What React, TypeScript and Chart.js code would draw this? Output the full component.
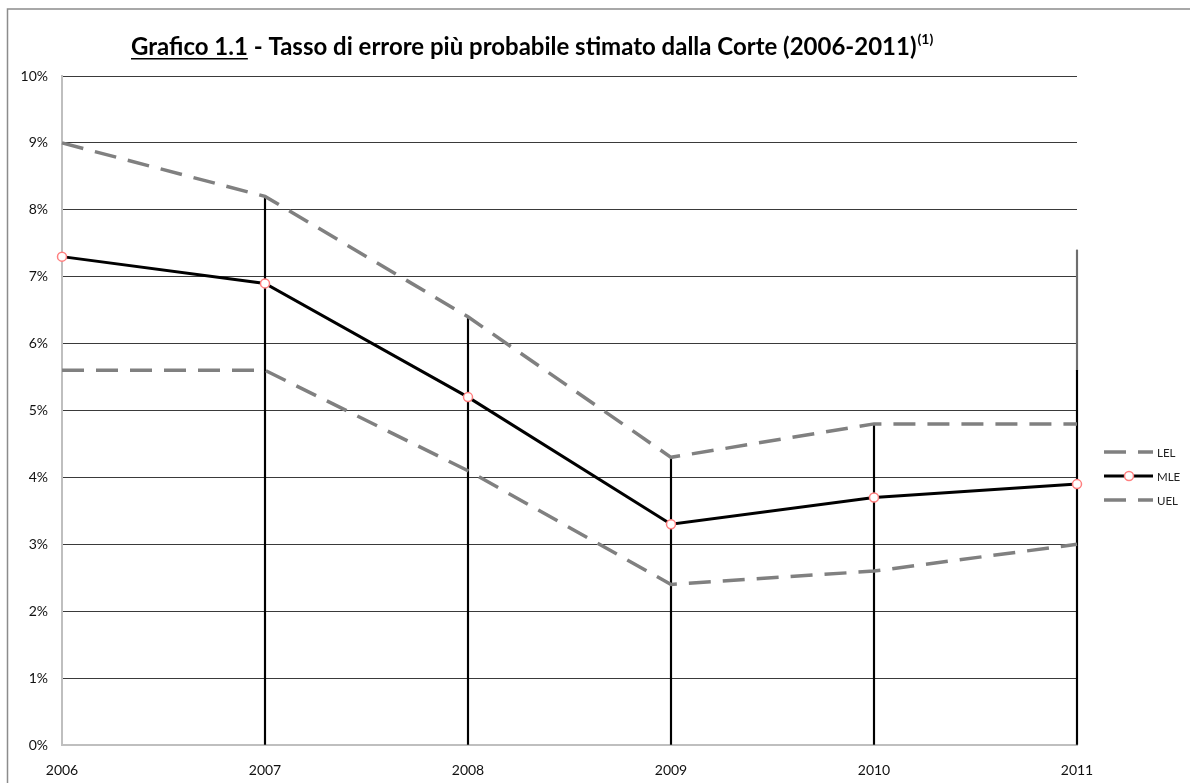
import React, { useEffect, useRef } from "react";
import { Chart, registerables } from "chart.js";

Chart.register(...registerables);

const years = ["2006", "2007", "2008", "2009", "2010", "2011"];
const lel = [5.6, 5.6, 4.1, 2.4, 2.6, 3.0];
const mle = [7.3, 6.9, 5.2, 3.3, 3.7, 3.9];
const uel = [9.0, 8.2, 6.4, 4.3, 4.8, 4.8];
const dropLines = [null, 8.2, 6.4, 4.3, 4.8, 5.6];
const dropExtra = [null, null, null, null, null, [5.6, 7.4]];
const yTickLabels = ["0%", "1%", "2%", "3%", "4%", "5%", "6%", "7%", "8%", "9%", "10%"];
const titleMain = "Grafico 1.1";
const titleRest = " - Tasso di errore più probabile stimato dalla Corte (2006-2011)";
const titleSup = "(1)";
const legendItems = ["LEL", "MLE", "UEL"];

const FONT = "Lato, 'Open Sans', sans-serif";

const decorPlugin = {
  id: "decor",
  beforeDraw(chart: any) {
    const ctx = chart.ctx;
    ctx.save();
    ctx.fillStyle = "#fff";
    ctx.fillRect(0, 0, chart.width, chart.height);
    ctx.strokeStyle = "#8c8c8c";
    ctx.lineWidth = 1.5;
    ctx.strokeRect(7.5, 9, chart.width + 50, chart.height + 50);
    ctx.restore();
  },
  afterDraw(chart: any) {
    const ctx = chart.ctx;
    ctx.save();
    // Title
    const targetW = 786;
    ctx.font = `bold 20px ${FONT}`;
    const w20 = ctx.measureText(titleMain + titleRest).width;
    const fs = (20 * targetW) / w20;
    ctx.font = `bold ${fs}px ${FONT}`;
    ctx.fillStyle = "#000";
    ctx.textBaseline = "alphabetic";
    ctx.textAlign = "left";
    const x0 = 131;
    const base = 55;
    ctx.fillText(titleMain, x0, base);
    const wMain = ctx.measureText(titleMain).width;
    ctx.fillRect(x0, base + 3, wMain, 1.5);
    ctx.fillText(titleRest, x0 + wMain, base);
    const wRest = ctx.measureText(titleRest).width;
    ctx.font = `bold 14px ${FONT}`;
    ctx.fillText(titleSup, x0 + wMain + wRest + 1, base - 11);

    // Legend
    const lx = 1104;
    const ys = [452, 476, 500];
    const dsIdx = [0, 1, 2];
    legendItems.forEach((label, i) => {
      const ds = chart.data.datasets[dsIdx[i]];
      const y = ys[i];
      ctx.save();
      ctx.strokeStyle = ds.borderColor;
      ctx.lineWidth = ds.borderWidth;
      ctx.setLineDash(ds.borderDash || []);
      ctx.beginPath();
      ctx.moveTo(lx, y);
      ctx.lineTo(lx + 49, y);
      ctx.stroke();
      ctx.setLineDash([]);
      if (ds.pointRadius) {
        ctx.beginPath();
        ctx.arc(lx + 25, y, ds.pointRadius, 0, Math.PI * 2);
        ctx.fillStyle = ds.pointBackgroundColor;
        ctx.fill();
        ctx.lineWidth = ds.pointBorderWidth;
        ctx.strokeStyle = ds.pointBorderColor;
        ctx.stroke();
      }
      ctx.restore();
      ctx.font = `11.5px ${FONT}`;
      ctx.fillStyle = "#222";
      ctx.textBaseline = "middle";
      ctx.fillText(label, lx + 53, y + 1);
    });
    ctx.restore();
  },
};

export default function App() {
  const ref = useRef<HTMLCanvasElement | null>(null);

  useEffect(() => {
    document.body.style.overflow = "hidden";
    const canvas = ref.current!;
    const chart = new Chart(canvas, {
      type: "line",
      data: {
        labels: years,
        datasets: [
          {
            label: "LEL",
            data: lel,
            borderColor: "#808080",
            borderWidth: 3.5,
            borderDash: [22, 12],
            pointRadius: 0,
            fill: false,
            tension: 0,
            order: 2,
            clip: false,
          } as any,
          {
            label: "MLE",
            data: mle,
            borderColor: "#000",
            borderWidth: 3,
            pointRadius: 4.5,
            pointBackgroundColor: "#fff",
            pointBorderColor: "#ff7f7f",
            pointBorderWidth: 1.5,
            fill: false,
            tension: 0,
            order: 1,
            clip: false,
          } as any,
          {
            label: "UEL",
            data: uel,
            borderColor: "#808080",
            borderWidth: 3.5,
            borderDash: [22, 12],
            pointRadius: 0,
            fill: false,
            tension: 0,
            order: 2,
            clip: false,
          } as any,
          {
            type: "bar",
            label: "drop",
            data: dropLines,
            backgroundColor: "#000",
            barThickness: 1.5,
            grouped: false,
            order: 3,
            clip: false,
          } as any,
          {
            type: "bar",
            label: "dropExtra",
            data: dropExtra,
            backgroundColor: "#6e6e6e",
            barThickness: 1.5,
            grouped: false,
            order: 3,
            clip: false,
          } as any,
        ],
      },
      options: {
        responsive: false,
        animation: false,
        layout: { padding: { top: 76, right: 113, bottom: 0, left: 0 } },
        plugins: {
          legend: { display: false },
          tooltip: { enabled: false },
          title: { display: false },
        },
        scales: {
          x: {
            type: "category",
            offset: false,
            grid: { color: "rgba(0,0,0,0)", drawTicks: false },
            border: { display: true, color: "#bfbfbf", width: 2 },
            ticks: {
              autoSkip: false,
              maxRotation: 0,
              padding: 17,
              color: "#111",
              font: { family: FONT, size: 14 },
            },
            afterFit: (s: any) => {
              s.height = 38;
            },
          },
          y: {
            min: 0,
            max: 10,
            ticks: {
              stepSize: 1,
              padding: 14,
              color: "#111",
              font: { family: FONT, size: 14 },
              callback: (_v: any, i: number) => yTickLabels[i],
            },
            grid: {
              drawTicks: false,
              color: (c: any) => (c.tick && c.tick.value === 0 ? "rgba(0,0,0,0)" : "#3a3a3a"),
              lineWidth: 1,
            },
            border: { display: true, color: "#bfbfbf", width: 2 },
            afterFit: (s: any) => {
              s.width = 62;
            },
          },
        },
      },
      plugins: [decorPlugin],
    });
    return () => chart.destroy();
  }, []);

  return (
    <div style={{ position: "fixed", left: 0, top: 0, width: 1190, height: 783, background: "#fff" }}>
      <canvas ref={ref} width={1190} height={783} style={{ display: "block" }} />
    </div>
  );
}
